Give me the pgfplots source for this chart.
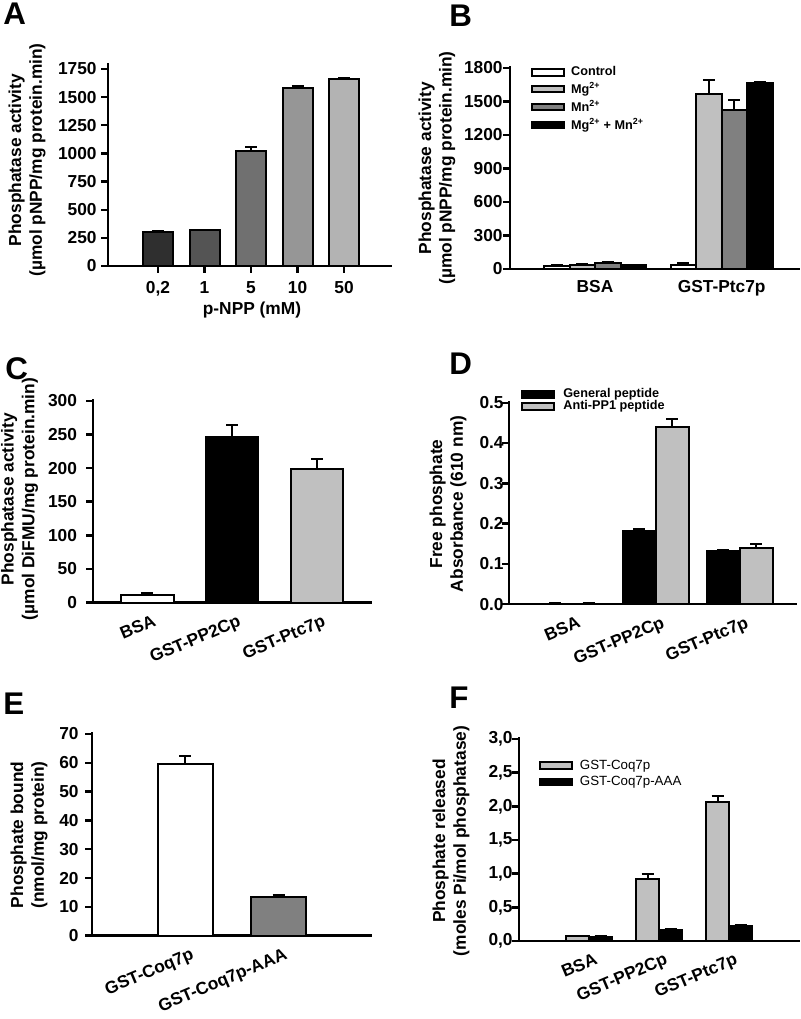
\documentclass[border=0pt]{standalone}
\usepackage{pgfplots}
\pgfplotsset{compat=1.18}
\usepackage{fontspec}
\setmainfont{Liberation Sans}

\definecolor{cA1}{HTML}{2F2F2F}
\definecolor{cA2}{HTML}{545454}
\definecolor{cA3}{HTML}{707070}
\definecolor{cA4}{HTML}{969696}
\definecolor{cA5}{HTML}{B3B3B3}
\definecolor{lgray}{HTML}{C0C0C0}
\definecolor{mgray}{HTML}{808080}

% positions below are pixel positions of the reference (800x1019) times 0.75pt,
% measured from the bottom left
\pgfplotsset{
  panel/.style={
    scale only axis, anchor=south west,
    axis x line*=bottom, axis y line*=left,
    axis line style={-, line width=1.8pt},
    ymin=0, ybar,
    tick align=outside, major tick length=5pt,
    ytick style={line width=1.8pt, black},
    xtick style={draw=none},
    tick label style={font=\fontsize{13}{15}\selectfont\bfseries},
    /pgf/number format/assume math mode=true,
    /pgf/number format/1000 sep={},
    scaled y ticks=false,
    label style={font=\fontsize{13}{15.5}\selectfont\bfseries, align=center},
    ylabel style={anchor=center},
    every axis plot/.append style={draw=black, line width=1.5pt},
    error bars/y dir=plus, error bars/y explicit,
    error bars/error mark=|,
    error bars/error bar style={line width=1.5pt, black},
    error bars/error mark options={line width=1.5pt, mark size=4.5pt, black},
    legend image code/.code={\draw[##1] (0pt,-2.5pt) rectangle (24pt,2.5pt);},
    legend cell align=left,
  },
  rotlabels/.style={
    xticklabel style={rotate=23, anchor=north east, inner sep=1pt,
      xshift=3pt, yshift=-3.5pt},
  },
}

\begin{document}
\begin{tikzpicture}
\path[use as bounding box, fill=white] (0,0) rectangle (600pt,764.25pt);

% ---- A ----
\begin{axis}[panel, at={(81pt,564.75pt)}, width=213pt, height=151.97pt,
  xmin=-1.075, xmax=5.03, ymax=1800, ytick={0,250,...,1750},
  bar width=0.645,
  xtick={0,...,4}, xticklabels={{0,2},1,5,10,50},
  xtick style={draw=black, line width=1.8pt},
  xticklabel style={yshift=-3pt},
  xlabel={p-NPP (mM)},
  xlabel style={at={(axis description cs:0.507,-0.217)}, anchor=center},
  ylabel={Phosphatase activity\\(µmol pNPP/mg protein.min)},
  ylabel style={at={(axis description cs:-0.285,0.523)}},
]
\addplot[fill=cA1, bar shift=0] coordinates {(0,305) +- (0,4)};
\addplot[fill=cA2, bar shift=0] coordinates {(1,320) +- (0,4)};
\addplot[fill=cA3, bar shift=0] coordinates {(2,1025) +- (0,35)};
\addplot[fill=cA4, bar shift=0] coordinates {(3,1585) +- (0,10)};
\addplot[fill=cA5, bar shift=0] coordinates {(4,1665) +- (0,3)};
\end{axis}

% ---- B ----
\begin{axis}[panel, at={(382.5pt,562.5pt)}, width=217.5pt, height=152pt,
  xmin=-0.671, xmax=1.618, ymax=1815, ytick={0,300,...,1800},
  yticklabel style={xshift=3pt},
  bar width=0.2013,
  xtick={0,1}, xticklabels={BSA,GST-Ptc7p},
  ylabel={Phosphatase activity\\(µmol pNPP/mg protein.min)},
  ylabel style={at={(axis description cs:-0.252,0.498)}},
  legend style={draw=none, fill=none, inner sep=0pt,
    at={(axis description cs:0.072,1.0)}, anchor=north west,
    font=\fontsize{9.5}{11}\selectfont\bfseries,
    nodes={inner sep=0pt}, row sep=3.5pt,
    /tikz/every odd column/.append style={column sep=4.5pt}},
]
\addplot[fill=white, bar shift=-0.302] coordinates {(0,30) +- (0,8) (1,40) +- (0,12)};
\addplot[fill=lgray, bar shift=-0.1006] coordinates {(0,35) +- (0,8) (1,1565) +- (0,125)};
\addplot[fill=mgray, bar shift=0.1006] coordinates {(0,55) +- (0,10) (1,1425) +- (0,90)};
\addplot[fill=black, bar shift=0.302] coordinates {(0,35) +- (0,5) (1,1670) +- (0,5)};
\legend{Control, Mg\textsuperscript{2+}, Mn\textsuperscript{2+}, Mg\textsuperscript{2+} + Mn\textsuperscript{2+}}
\end{axis}

% ---- C ----
\begin{axis}[panel, rotlabels, at={(69.75pt,312.225pt)}, width=209.25pt, height=152.5pt,
  xmin=-0.643, xmax=2.649, ymax=302, ytick={0,50,...,300},
  yticklabel style={xshift=-3.5pt},
  bar width=0.614,
  xtick={0,1,2}, xticklabels={BSA,GST-PP2Cp,GST-Ptc7p},
  ylabel={Phosphatase activity\\(µmol DiFMU/mg protein.min)},
  ylabel style={at={(axis description cs:-0.263,0.51)}},
]
\addplot[fill=white, bar shift=0] coordinates {(0,12) +- (0,3)};
\addplot[fill=black, bar shift=0] coordinates {(1,246) +- (0,18)};
\addplot[fill=lgray, bar shift=0] coordinates {(2,198) +- (0,16)};
\end{axis}

% ---- D ----
\begin{axis}[panel, rotlabels, at={(381.75pt,311.025pt)}, width=216pt, height=152.7pt,
  xmin=-0.75, xmax=2.679, ymax=0.505, ytick={0,0.1,0.2,0.3,0.4,0.5},
  yticklabel style={xshift=4.5pt, /pgf/number format/.cd, fixed, fixed zerofill, precision=1},
  bar width=0.393,
  xtick={0,1,2}, xticklabels={BSA,GST-PP2Cp,GST-Ptc7p},
  ylabel={Free phosphate\\Absorbance (610 nm)},
  ylabel style={at={(axis description cs:-0.212,0.493)}},
  legend style={draw=none, fill=none, inner sep=0pt,
    at={(axis description cs:0.042,1.06)}, anchor=north west,
    font=\fontsize{9.5}{11}\selectfont\bfseries,
    nodes={inner sep=0pt}, row sep=0.5pt,
    /tikz/every odd column/.append style={column sep=6pt}},
]
\addplot[fill=black, bar shift=-0.1965] coordinates {(0,0.001) +- (0,0.002) (1,0.181) +- (0,0.006) (2,0.131) +- (0,0.003)};
\addplot[fill=lgray, bar shift=0.1965] coordinates {(0,0.001) +- (0,0.002) (1,0.44) +- (0,0.02) (2,0.14) +- (0,0.01)};
\legend{General peptide, Anti-PP1 peptide}
\end{axis}

% ---- E ----
\begin{axis}[panel, rotlabels, at={(69pt,62.475pt)}, width=210pt, height=153pt,
  xmin=-1, xmax=2, ymax=70.8, ytick={0,10,...,70},
  yticklabel style={xshift=-1.5pt},
  bar width=0.596,
  xtick={0,1}, xticklabels={GST-Coq7p,GST-Coq7p-AAA},
  ylabel={Phosphate bound\\(nmol/mg protein)},
  ylabel style={at={(axis description cs:-0.225,0.494)}},
]
\addplot[fill=white, bar shift=0] coordinates {(0,59.5) +- (0,3)};
\addplot[fill=mgray, bar shift=0] coordinates {(1,13.5) +- (0,0.7)};
\end{axis}

% ---- F ----
\begin{axis}[panel, rotlabels, at={(389.25pt,58.5pt)}, width=210.75pt, height=153pt,
  xmin=-1, xmax=3.014, ymax=3.03, ytick={0,0.5,1,1.5,2,2.5,3},
  yticklabel style={xshift=3.75pt, /pgf/number format/.cd, use comma, fixed, fixed zerofill, precision=1},
  bar width=0.329,
  xtick={0,1,2}, xticklabels={BSA,GST-PP2Cp,GST-Ptc7p},
  ylabel={Phosphate released\\(moles Pi/mol phosphatase)},
  ylabel style={at={(axis description cs:-0.242,0.49)}},
  legend style={draw=none, fill=none, inner sep=0pt,
    at={(axis description cs:0.071,0.89)}, anchor=north west,
    font=\fontsize{10}{12}\selectfont,
    nodes={inner sep=0pt}, row sep=4pt,
    /tikz/every odd column/.append style={column sep=5pt}},
]
\addplot[fill=lgray, bar shift=-0.1643] coordinates {(0,0.07) +- (0,0.01) (1,0.92) +- (0,0.08) (2,2.06) +- (0,0.1)};
\addplot[fill=black, bar shift=0.1643] coordinates {(0,0.06) +- (0,0.01) (1,0.17) +- (0,0.01) (2,0.22) +- (0,0.015)};
\legend{GST-Coq7p, GST-Coq7p-AAA}
\end{axis}

% panel letters
\begin{scope}[every node/.style={anchor=north west, inner sep=0pt, font=\fontsize{23.5}{26}\selectfont\bfseries}]
\node at (2.25pt,762pt) {A};
\node at (336.75pt,760.5pt) {B};
\node at (3.75pt,496.5pt) {C};
\node at (336.75pt,499.5pt) {D};
\node at (2.25pt,244.5pt) {E};
\node at (336.75pt,249pt) {F};
\end{scope}
\end{tikzpicture}
\end{document}
